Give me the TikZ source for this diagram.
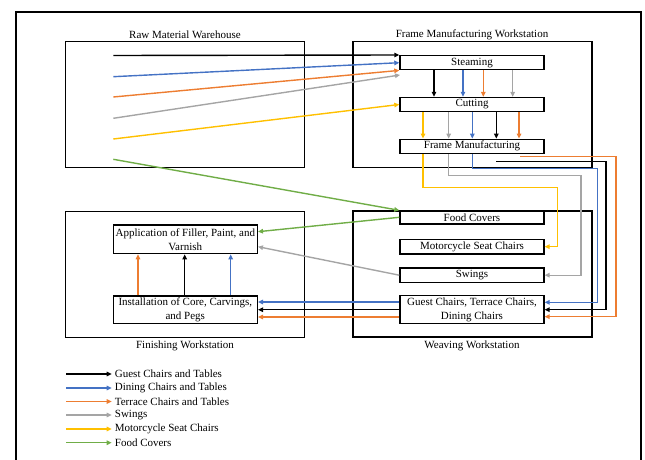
\documentclass[tikz,border=0pt]{standalone}
\usepackage{fontspec}
\setmainfont{Liberation Serif}
\usetikzlibrary{arrows.meta,calc}
\definecolor{cblue}{HTML}{4472C4}
\definecolor{corange}{HTML}{ED7D31}
\definecolor{cgray}{HTML}{A5A5A5}
\definecolor{cyellow}{HTML}{FFC000}
\definecolor{cgreen}{HTML}{70AD47}
\begin{document}
\begin{tikzpicture}[x=1pt,y=-1pt,
  every node/.style={font=\fontsize{11}{14}\selectfont},
  area/.style={draw,line width=1.4pt,minimum width=239pt,minimum height=126pt,inner sep=0pt},
  proc/.style={draw,line width=1.4pt,minimum width=144pt,inner sep=0pt,align=center},
  ttl/.style={inner sep=0pt},
  flow/.style={line width=1.4pt,-{Triangle[length=5pt,width=4.5pt]}},
  fk/.style={flow,draw=black},
  fb/.style={flow,draw=cblue},
  fo/.style={flow,draw=corange},
  fg/.style={flow,draw=cgray},
  fy/.style={flow,draw=cyellow},
  fgr/.style={flow,draw=cgreen},
  leg/.style={anchor=west,inner sep=0pt}]
\useasboundingbox (0,0) rectangle (645,460);
\draw[line width=1.6pt] (16,460) -- (16,12) -- (641,12) -- (641,460);

% areas
\node[area] (raw) at (185,104.7) {};
\node[area] (fmw) at (472.3,104.7) {};
\node[area] (fin) at (185,274.2) {};
\node[area] (wev) at (472.5,274) {};
\node[ttl] (trw) at (185,35) {Raw Material Warehouse};
\node[ttl] (tfm) at (472,35) {Frame Manufacturing Workstation};
\node[ttl] (tfi) at (185,346) {Finishing Workstation};
\node[ttl] (twv) at (472,346) {Weaving Workstation};

% process boxes
\node[proc,minimum height=14pt] (steam) at (472,62.7) {Steaming};
\node[proc,minimum height=14pt] (cut) at (472,104.5) {Cutting};
\node[proc,minimum height=14pt] (fm) at (472,146.3) {Frame Manufacturing};
\node[proc,minimum height=13pt] (food) at (472,217.5) {Food Covers};
\node[proc,minimum height=14.7pt] (msc) at (472,246.7) {Motorcycle Seat Chairs};
\node[proc,minimum height=14.3pt] (swing) at (472,275.2) {Swings};
\node[proc,minimum height=28pt] (guest) at (472,309.7) {Guest Chairs, Terrace Chairs,\\Dining Chairs};
\node[proc,minimum height=28.7pt] (app) at (185.3,239.3) {Application of Filler, Paint, and\\Varnish};
\node[proc,minimum height=27.7pt] (inst) at (185.3,309.9) {Installation of Core, Carvings,\\and Pegs};

% raw material starts
\coordinate (sk) at (113.3,55.5);
\coordinate (sb) at (113.3,76.7);
\coordinate (so) at (113.3,97);
\coordinate (sg) at (113.3,118.3);
\coordinate (sy) at (113.3,139);
\coordinate (sgr) at (113.3,159.3);
\coordinate (eg) at (400,75);

\draw[fk] (sk) -- (steam.north west);
\draw[fb] (sb) -- (steam.west);
\draw[fo] (so) -- (steam.south west);
\draw[fg] (sg) -- (eg);
\draw[fy] (sy) -- (cut.west);
\draw[fgr] (sgr) -- (food.north west);

% steaming -> cutting
\draw[fk] (434,0 |- steam.south) -- (434,0 |- cut.north);
\draw[fb] (463,0 |- steam.south) -- (463,0 |- cut.north);
\draw[fo] (483.3,0 |- steam.south) -- (483.3,0 |- cut.north);
\draw[fg] (512.7,0 |- steam.south) -- (512.7,0 |- cut.north);

% cutting -> frame manufacturing
\draw[fy] (423,0 |- cut.south) -- (423,0 |- fm.north);
\draw[fg] (448.7,0 |- cut.south) -- (448.7,0 |- fm.north);
\draw[fb] (472.3,0 |- cut.south) -- (472.3,0 |- fm.north);
\draw[fk] (496.3,0 |- cut.south) -- (496.3,0 |- fm.north);
\draw[fo] (519,0 |- cut.south) -- (519,0 |- fm.north);

% frame manufacturing -> weaving
\coordinate (ok) at (496.3,161.7);
\coordinate (oo) at (520,156.7);
\draw[fy] (423,0 |- fm.south) -- (423,187.7) -- (557.7,187.7) |- (msc.east);
\draw[fg] (448.7,0 |- fm.south) -- (448.7,175.7) -- (581,175.7) |- (swing.east);
\draw[fb] (472.3,0 |- fm.south) -- (472.3,168.3) -- (597.7,168.3) |- ([yshift=7.4pt]guest.east);
\draw[fk] (ok) -- (606,161.7) |- (guest.east);
\draw[fo] (oo) -- (616,156.7) |- ([yshift=-7pt]guest.east);

% weaving -> finishing
\draw[fgr] ([yshift=0.2pt]food.west) -- ([yshift=7.6pt]app.east);
\draw[fg] (swing.west) -- ([yshift=-7.4pt]app.east);
\draw[fb] ([yshift=7.7pt]guest.west) -- ([yshift=7.7pt]guest.west -| inst.east);
\draw[fk] (guest.west) -- (guest.west -| inst.east);
\draw[fo] ([yshift=-7.3pt]guest.west) -- ([yshift=-7.3pt]guest.west -| inst.east);

% finishing internal
\draw[fo] (138,0 |- inst.north) -- (138,0 |- app.south);
\draw[fk] (184.7,0 |- inst.north) -- (184.7,0 |- app.south);
\draw[fb] (230.7,0 |- inst.north) -- (230.7,0 |- app.south);

% legend
\node[leg] (l1) at (114.7,374) {Guest Chairs and Tables};
\node[leg] (l2) at (114.7,388) {Dining Chairs and Tables};
\node[leg] (l3) at (114.7,401.5) {Terrace Chairs and Tables};
\node[leg] (l4) at (114.7,415) {Swings};
\node[leg] (l5) at (114.7,429) {Motorcycle Seat Chairs};
\node[leg] (l6) at (114.7,442.7) {Food Covers};
\coordinate (c1) at (66,374);
\coordinate (c2) at (66,388);
\coordinate (c3) at (66,401.5);
\coordinate (c4) at (66,415);
\coordinate (c5) at (66,429);
\coordinate (c6) at (66,442.7);
\draw[fk,shorten >=3pt] (c1) -- (l1.west);
\draw[fb,shorten >=3pt] (c2) -- (l2.west);
\draw[fo,shorten >=3pt] (c3) -- (l3.west);
\draw[fg,shorten >=3pt] (c4) -- (l4.west);
\draw[fy,shorten >=3pt] (c5) -- (l5.west);
\draw[fgr,shorten >=3pt] (c6) -- (l6.west);
\end{tikzpicture}
\end{document}
